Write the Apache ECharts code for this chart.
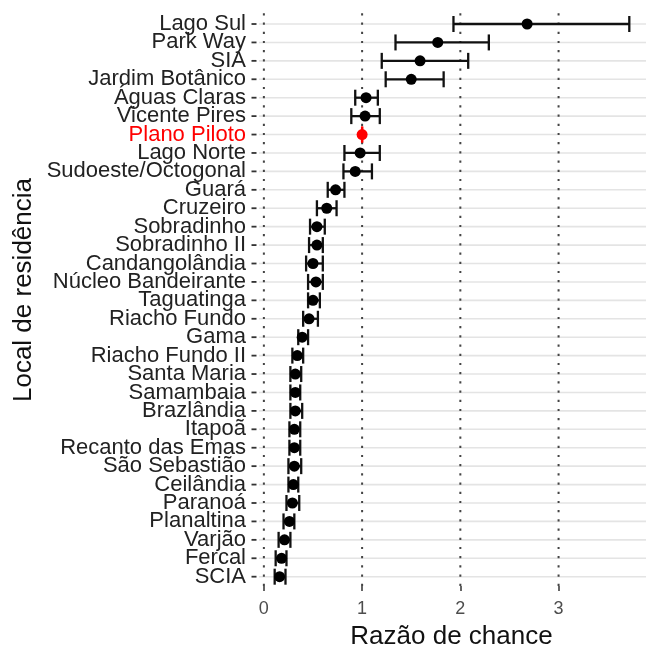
<!DOCTYPE html>
<html>
<head>
<meta charset="utf-8">
<script src="https://cdn.jsdelivr.net/npm/echarts@6/dist/echarts.min.js"></script>
<style>
html,body{margin:0;padding:0;background:#fff;}
#c{width:646px;height:650px;}
</style>
</head>
<body>
<div id="c"></div>
<script>
const categories = ['Lago Sul','Park Way','SIA','Jardim Botânico','Águas Claras','Vicente Pires','Plano Piloto','Lago Norte','Sudoeste/Octogonal','Guará','Cruzeiro','Sobradinho','Sobradinho II','Candangolândia','Núcleo Bandeirante','Taguatinga','Riacho Fundo','Gama','Riacho Fundo II','Santa Maria','Samambaia','Brazlândia','Itapoã','Recanto das Emas','São Sebastião','Ceilândia','Paranoá','Planaltina','Varjão','Fercal','SCIA'];
const oddsRatio = [2.68,1.77,1.59,1.50,1.04,1.03,1.00,0.98,0.93,0.73,0.64,0.54,0.54,0.50,0.53,0.50,0.46,0.39,0.34,0.32,0.32,0.32,0.31,0.31,0.31,0.30,0.29,0.26,0.21,0.18,0.16];
const lowerCI = [1.93,1.34,1.20,1.24,0.93,0.89,1.00,0.82,0.81,0.65,0.54,0.47,0.46,0.43,0.45,0.45,0.40,0.35,0.29,0.27,0.27,0.27,0.26,0.26,0.25,0.25,0.23,0.20,0.15,0.12,0.11];
const upperCI = [3.72,2.29,2.08,1.83,1.16,1.18,1.00,1.18,1.10,0.82,0.74,0.62,0.60,0.60,0.60,0.57,0.55,0.45,0.40,0.38,0.37,0.39,0.37,0.37,0.38,0.35,0.36,0.31,0.27,0.23,0.22];
const referenceCategory = 'Plano Piloto';
const xTicks = [0,1,2,3];
const xTitle = 'Razão de chance';
const yTitle = 'Local de residência';

const FONT = '"Liberation Sans", Arial, Helvetica, sans-serif';
const RED = '#ff0000';
const DARK = '#111';

const chart = echarts.init(document.getElementById('c'), null, {renderer: 'canvas'});

const errData = categories.map((c, i) => [lowerCI[i], upperCI[i], i]);
const ptData = categories.map((c, i) => ({
  value: [oddsRatio[i], i],
  itemStyle: {color: c === referenceCategory ? RED : '#000', opacity: 1}
}));
const gridData = categories.map((c, i) => [0, i]);
const vlineData = xTicks.map(v => [v, 0]);

chart.setOption({
  animation: false,
  backgroundColor: '#fff',
  grid: {left: 257, right: 0, top: 14.8, bottom: 64.1, containLabel: false},
  xAxis: {
    type: 'value',
    min: -0.07,
    max: 3.89,
    axisLine: {show: true, lineStyle: {opacity: 0}},
    splitLine: {show: false},
    axisTick: {show: true, customValues: xTicks, length: 5, lineStyle: {color: '#333', width: 1.5}},
    axisLabel: {customValues: xTicks, color: '#4d4d4d', fontSize: 18, fontFamily: FONT, margin: 14}
  },
  yAxis: {
    type: 'category',
    data: categories,
    inverse: true,
    boundaryGap: true,
    axisLine: {show: false},
    splitLine: {show: false},
    axisTick: {show: false},
    axisLabel: {
      interval: 0,
      fontSize: 22, fontFamily: FONT, margin: 11,
      color: (v) => v === referenceCategory ? RED : '#222'
    }
  },
  graphic: [
    {type: 'text', x: 451.5, y: 637, style: {text: xTitle, font: '26px ' + FONT, fill: DARK, textAlign: 'center', textVerticalAlign: 'middle'}},
    {type: 'text', x: 24, y: 290, rotation: Math.PI / 2, style: {text: yTitle, font: '26px ' + FONT, fill: DARK, textAlign: 'center', textVerticalAlign: 'middle'}}
  ],
  series: [
    {
      type: 'custom',
      z: 1,
      silent: true,
      clip: false,
      data: gridData,
      encode: {x: 0, y: 1},
      renderItem: function (params, api) {
        const cs = params.coordSys;
        const p = api.coord([0, api.value(1)]);
        return {type: 'group', children: [
          {type: 'line', shape: {x1: cs.x + 2, y1: p[1], x2: cs.x + cs.width, y2: p[1]},
            style: {stroke: '#e4e4e4', lineWidth: 1.6}},
          {type: 'line', shape: {x1: cs.x - 5.5, y1: p[1], x2: cs.x - 0.5, y2: p[1]},
            style: {stroke: '#333', lineWidth: 1.8}}
        ]};
      }
    },
    {
      type: 'custom',
      z: 2,
      silent: true,
      clip: false,
      data: vlineData,
      encode: {x: 0, y: 1},
      renderItem: function (params, api) {
        const cs = params.coordSys;
        const p = api.coord([api.value(0), 0]);
        return {type: 'line', shape: {x1: p[0], y1: cs.y - 1.5, x2: p[0], y2: cs.y + cs.height + 1.5},
          style: {stroke: '#444', lineWidth: 2, lineDash: [2.2, 7]}};
      }
    },
    {
      type: 'custom',
      z: 3,
      clip: false,
      data: errData,
      encode: {x: [0, 1], y: 2},
      renderItem: function (params, api) {
        const i = api.value(2);
        const lo = api.coord([api.value(0), i]);
        const hi = api.coord([api.value(1), i]);
        const h = 8;
        const col = categories[i] === referenceCategory ? RED : DARK;
        const st = {stroke: col, lineWidth: 2.3};
        return {
          type: 'group',
          children: [
            {type: 'line', shape: {x1: lo[0], y1: lo[1], x2: hi[0], y2: hi[1]}, style: st},
            {type: 'line', shape: {x1: lo[0], y1: lo[1] - h, x2: lo[0], y2: lo[1] + h}, style: st},
            {type: 'line', shape: {x1: hi[0], y1: hi[1] - h, x2: hi[0], y2: hi[1] + h}, style: st}
          ]
        };
      }
    },
    {
      type: 'scatter',
      z: 4,
      symbol: 'circle',
      symbolSize: 11,
      itemStyle: {opacity: 1},
      data: ptData
    }
  ]
});
</script>
</body>
</html>
